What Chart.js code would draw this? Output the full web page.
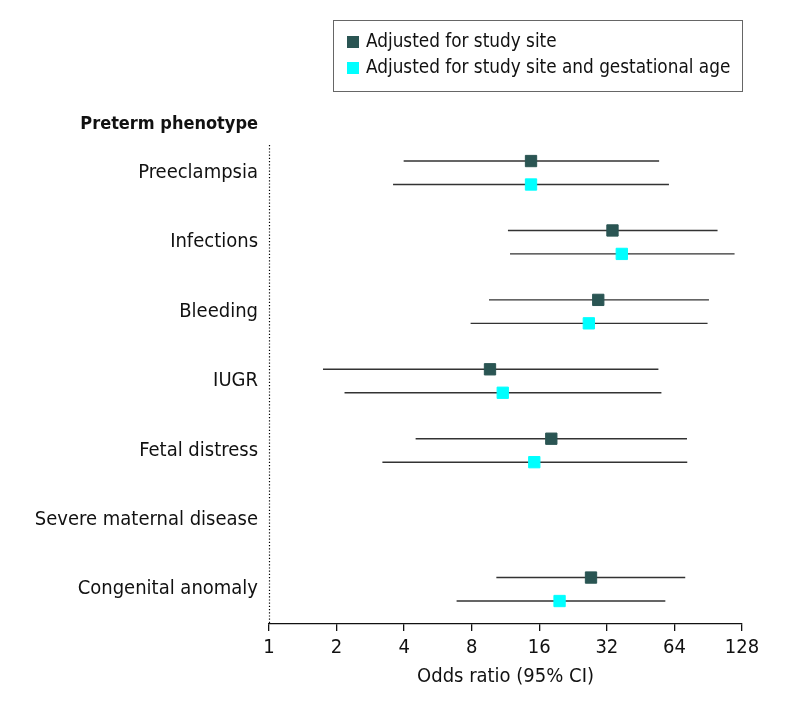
<!DOCTYPE html>
<html>
<head>
<meta charset="utf-8">
<script src="https://cdn.jsdelivr.net/npm/chart.js@4"></script>
<style>
  html, body { margin: 0; padding: 0; background: #fff; }
  #wrap { width: 794px; height: 706px; }
</style>
</head>
<body>
<div id="wrap"><canvas id="chart"></canvas></div>
<script>
const categories = ['Preeclampsia', 'Infections', 'Bleeding', 'IUGR', 'Fetal distress', 'Severe maternal disease', 'Congenital anomaly'];

// odds ratio and 95% CI, adjusted for study site
const siteOR = [14.7, 33.9, 29.3, 9.65, 18.1, null, 27.2];
const siteLo = [3.98, 11.6, 9.55, 1.74, 4.5, null, 10.3];
const siteHi = [54.7, 99.6, 91.2, 54.3, 72.8, null, 71.5];

// adjusted for study site and gestational age
const gestOR = [14.7, 37.3, 26.6, 11.0, 15.2, null, 19.7];
const gestLo = [3.57, 11.85, 7.91, 2.17, 3.2, null, 6.85];
const gestHi = [60.5, 118.6, 89.9, 56.0, 73.0, null, 58.3];

const xTicks = [1, 2, 4, 8, 16, 32, 64, 128];
const seriesNames = ['Adjusted for study site', 'Adjusted for study site and gestational age'];
const colors = ['#2a5553', '#00ffff'];

const FONT = "'Liberation Sans Narrow', 'DejaVu Sans Condensed', sans-serif";
const off = 0.169;

function points(vals, shift) {
  return vals.map((v, i) => v == null ? {x: null, y: null} : {x: v, y: i + shift});
}
function ciLine(lo, hi, shift) {
  const out = [];
  lo.forEach((v, i) => {
    if (v == null) return;
    out.push({x: v, y: i + shift}, {x: hi[i], y: i + shift}, {x: null, y: null});
  });
  return out;
}

// legend box, row header and the dotted reference line at OR = 1
const extras = {
  id: 'extras',
  beforeDatasetsDraw(chart) {
    const {ctx, chartArea} = chart;
    const x = Math.round(chart.scales.x.getPixelForValue(1)) + 0.5;
    ctx.save();
    ctx.strokeStyle = '#000';
    ctx.lineWidth = 1.2;
    ctx.setLineDash([1.2, 2]);
    ctx.beginPath();
    ctx.moveTo(x, chartArea.top);
    ctx.lineTo(x, chartArea.bottom);
    ctx.stroke();
    ctx.restore();
  },
  afterDraw(chart) {
    const ctx = chart.ctx;
    const right = chart.chartArea.right;
    ctx.save();
    ctx.strokeStyle = '#666';
    ctx.lineWidth = 1;
    ctx.strokeRect(333.5, 20.5, right - 333, 71);
    ctx.font = '18.8px ' + FONT;
    ctx.textBaseline = 'middle';
    seriesNames.forEach((name, i) => {
      const y = 42 + i * 26;
      ctx.fillStyle = colors[i];
      ctx.fillRect(347, y - 6, 12, 12);
      ctx.fillStyle = '#111';
      ctx.fillText(name, 366, y);
    });
    ctx.font = 'bold 18px ' + FONT;
    ctx.textAlign = 'right';
    ctx.fillStyle = '#111';
    ctx.fillText('Preterm phenotype', chart.chartArea.left - 11, 124);
    ctx.restore();
  }
};

new Chart(document.getElementById('chart'), {
  type: 'scatter',
  data: {
    datasets: [
      { data: ciLine(siteLo, siteHi, -off), showLine: true, borderColor: '#333', borderWidth: 1.4, pointRadius: 0, order: 2 },
      { data: ciLine(gestLo, gestHi, off), showLine: true, borderColor: '#333', borderWidth: 1.4, pointRadius: 0, order: 2 },
      { label: seriesNames[0], data: points(siteOR, -off), pointStyle: 'rect', pointRadius: 8, backgroundColor: colors[0], borderColor: colors[0], borderWidth: 1, order: 1 },
      { label: seriesNames[1], data: points(gestOR, off), pointStyle: 'rect', pointRadius: 8, backgroundColor: colors[1], borderColor: colors[1], borderWidth: 1, order: 1 }
    ]
  },
  options: {
    responsive: true,
    maintainAspectRatio: false,
    animation: false,
    layout: { padding: { top: 145, right: 52, bottom: 0, left: 0 } },
    plugins: {
      legend: { display: false },
      tooltip: { enabled: false }
    },
    scales: {
      x: {
        type: 'logarithmic',
        min: 1,
        max: 128,
        afterBuildTicks: (scale) => { scale.ticks = xTicks.map(v => ({value: v})); },
        afterFit: (scale) => { scale.height = 82; },
        ticks: {
          autoSkip: false,
          maxRotation: 0,
          padding: 5,
          color: '#111',
          font: { family: FONT, size: 20 },
          callback: (value) => String(value)
        },
        grid: { display: true, drawOnChartArea: false, drawTicks: true, tickLength: 7, color: '#111', lineWidth: 1.3 },
        border: { display: true, color: '#111', width: 1.3 },
        title: { display: true, text: 'Odds ratio (95% CI)', color: '#111', font: { family: FONT, size: 20 }, padding: { bottom: 17 } }
      },
      y: {
        type: 'linear',
        reverse: true,
        min: -0.4,
        max: 6.5,
        afterBuildTicks: (scale) => { scale.ticks = categories.map((c, i) => ({value: i})); },
        afterFit: (scale) => { scale.width = 269; },
        ticks: {
          autoSkip: false,
          padding: 11,
          color: '#111',
          font: { family: FONT, size: 20 },
          callback: (value) => categories[value]
        },
        grid: { display: false, drawTicks: false },
        border: { display: false }
      }
    }
  },
  plugins: [extras]
});
</script>
</body>
</html>
